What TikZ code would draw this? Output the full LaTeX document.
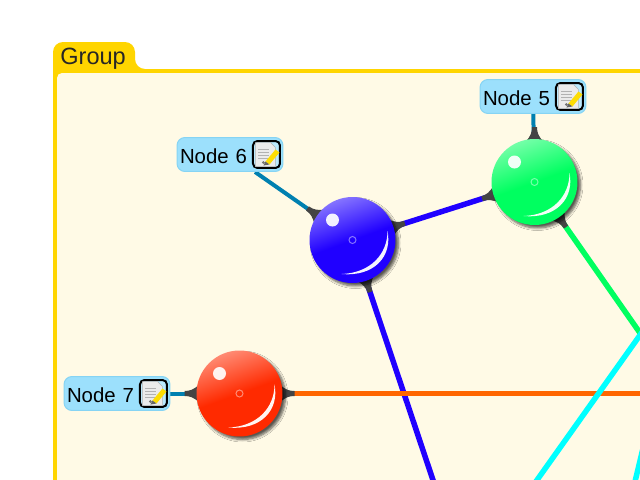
\documentclass[tikz,border=0pt]{standalone}
\usepackage{fontspec}
\setmainfont{Liberation Sans}
\usepackage{xcolor}
\usetikzlibrary{positioning, backgrounds, shadows.blur}

\definecolor{groupline}{HTML}{FFD500}
\definecolor{groupfill}{HTML}{FFFAE6}
\definecolor{labelfill}{HTML}{9CE0FC}
\definecolor{labelline}{HTML}{86D4F4}
\definecolor{stubgrey}{HTML}{444444}
\definecolor{linkteal}{HTML}{0080B0}
\definecolor{linkblue}{HTML}{2000FF}
\definecolor{linkgreen}{HTML}{00FF60}
\definecolor{linkcyan}{HTML}{00FFFF}
\definecolor{linkorange}{HTML}{FF6600}
\definecolor{ballred}{HTML}{FF2A00}

% one ball with its highlights
\newcommand{\ballnode}[3]{
    \node (#1) [ball=#3] at (#2) {};
    \begin{scope}[shift={(#1.center)}]
        \fill[white, opacity=0.92] (-20,-20) circle (6.5);
        \draw[white, opacity=0.45, line width=0.02cm] (0,0) circle (3.5);
        \fill[white, opacity=0.95] (35,-9) .. controls (40,16) and (22,37) .. (-11,34)
            .. controls (18,33) and (35,14) .. cycle;
    \end{scope}
}
% flared foot of a connector
\newcommand{\stub}[2]{
    \fill[stubgrey, shift={(#1.center)}, rotate=#2] (40,-9) .. controls (46,-4) and (49,-2.5) .. (55,-2.5)
        -- (55,2.5) .. controls (49,2.5) and (46,4) .. (40,9) -- cycle;
}
% edit icon of a label
\newcommand{\noteicon}[1]{
    \node (#1icon) [iconbox, left=0.05cm of #1.east] {};
    \begin{scope}[shift={(#1icon.center)}]
        \fill[white!92!black, draw=black!30, line width=0.01cm] (-11,-12) -- (4,-12) -- (9,-7) -- (9,12) -- (-11,12) -- cycle;
        \foreach \y in {-5,-2,1,4} {
            \draw[black!30, line width=0.03cm] (-8,\y) -- (3,\y);
        }
        \fill[black!55] (-3,8) circle (1.5);
        \fill[yellow!80!orange] (-1,7) -- (9,-5) -- (13,-2) -- (3,10) -- cycle;
        \fill[black!60] (-1,7) -- (3,10) -- (-3,11) -- cycle;
    \end{scope}
}

\begin{document}
\begin{tikzpicture}[x=0.02cm, y=-0.02cm]
    % Styles
    \tikzstyle{ball} = [circle, minimum size=1.72cm, inner sep=0pt, shading=axis, top color=#1!55!white, bottom color=#1, middle color=#1, shading angle=20, blur shadow={shadow xshift=0.06cm, shadow yshift=-0.06cm, shadow blur steps=6, shadow blur radius=0.05cm, shadow opacity=65}]
    \tikzstyle{note} = [rectangle, rounded corners=0.16cm, draw=labelline, line width=0.02cm, fill=labelfill, minimum height=0.68cm, inner ysep=0pt, inner xsep=0.06cm, text width=2cm, align=left, text height=0.36cm, text depth=0cm, font=\fontsize{11.6}{14}\selectfont]
    \tikzstyle{iconbox} = [rectangle, rounded corners=0.09cm, draw=black, line width=0.04cm, fill=labelfill!70!white, minimum size=0.54cm, inner sep=0pt]
    \tikzstyle{link} = [line width=0.11cm]
    \tikzstyle{notelink} = [line width=0.08cm, linkteal]

    \useasboundingbox (0,0) rectangle (640,480);
    \clip (0,0) rectangle (640,480);

    % Labels
    \node (lab5) [note] at (533,96.5) {Node 5};
    \node (lab6) [note] at (230,154.5) {Node 6};
    \node (lab7) [note] at (117,393.5) {Node 7};
    \noteicon{lab5}
    \noteicon{lab6}
    \noteicon{lab7}

    % Spheres
    \ballnode{ball5}{534.5,182}{linkgreen}
    \ballnode{ball6}{352.5,240}{linkblue}
    \ballnode{ball7}{239.5,393.5}{ballred}

    % Free ends
    \coordinate (end6) at (439,498);
    \coordinate (end5) at (654,353);
    \coordinate (end7) at (660,393.5);
    \coordinate (cyana) at (660,307);
    \coordinate (cyanb) at (520,504);
    \coordinate (cyanc) at (645,440);
    \coordinate (cyand) at (633,490);

    \begin{pgfonlayer}{background}
        % Group
        \fill[white] (0,0) rectangle (640,480);
        \fill[groupline, rounded corners=0.2cm] (53,700) -- (53,42) -- (135,42) -- (135,69) -- (700,69) -- (700,700) -- cycle;
        \fill[groupfill, rounded corners=0.1cm] (57,73) rectangle (700,700);
        \node (grouptitle) [anchor=base west, text=black!85, inner sep=0pt, font=\fontsize{13.4}{16}\selectfont] at (60,65) {Group};

        % Links
        \draw [notelink] (lab5) -- (ball5);
        \draw [notelink] (lab6) -- (ball6);
        \draw [notelink] (lab7) -- (ball7);
        \draw [link, linkblue] (ball6) -- (ball5);
        \draw [link, linkblue] (ball6) -- (end6);
        \draw [link, linkgreen] (ball5) -- (end5);
        \draw [link, linkorange] (ball7) -- (end7);
        \draw [link, linkcyan] (cyana) -- (cyanb);
        \draw [link, linkcyan] (cyanc) -- (cyand);

        % Feet
        \stub{ball5}{90}
        \stub{ball5}{197.7}
        \stub{ball5}{-55}
        \stub{ball6}{145}
        \stub{ball6}{17.7}
        \stub{ball6}{-71.3}
        \stub{ball7}{180}
        \stub{ball7}{0}
    \end{pgfonlayer}
\end{tikzpicture}
\end{document}
